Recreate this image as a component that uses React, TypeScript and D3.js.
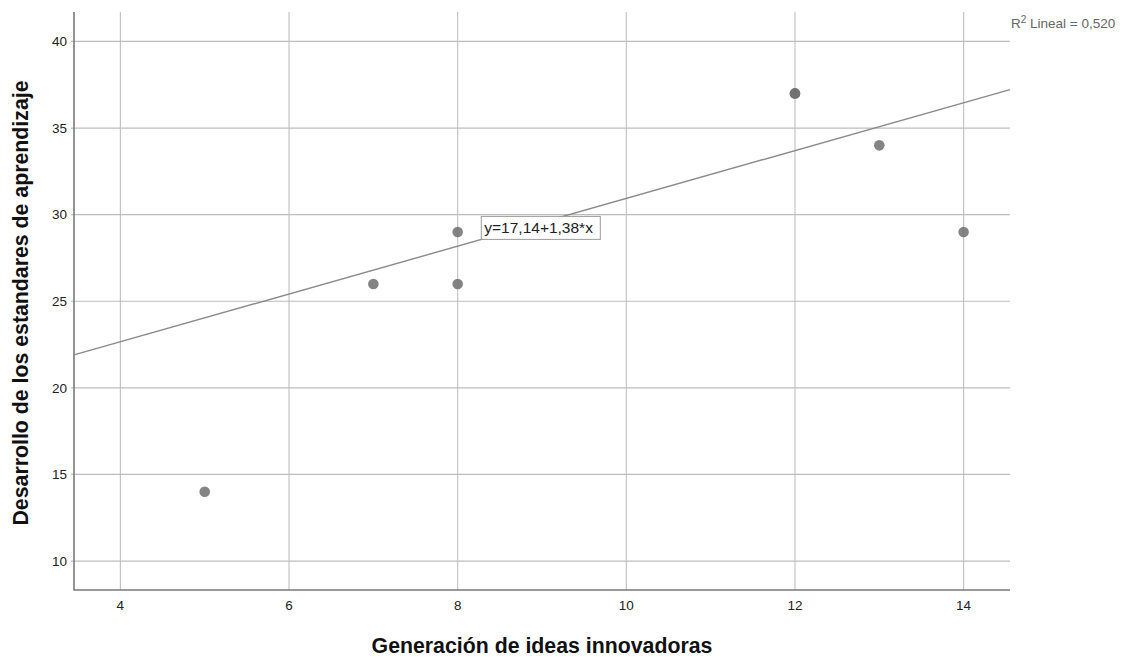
import { useEffect, useRef } from 'react';
import * as d3 from 'd3';

const xValues = [5, 7, 8, 8, 12, 12, 13, 14];
const yValues = [14, 26, 29, 26, 37, 37, 34, 29];
const xTicks = [4, 6, 8, 10, 12, 14];
const yTicks = [10, 15, 20, 25, 30, 35, 40];
const intercept = 17.14;
const slope = 1.38;
const equationText = 'y=17,14+1,38*x';
const r2Text = 'Lineal = 0,520';

const App = () => {
  const svgRef = useRef<SVGSVGElement>(null);

  useEffect(() => {
    const svg = d3.select(svgRef.current);
    svg.selectAll('*').remove();

    const left = 74;
    const right = 1010;
    const top = 12;
    const bottom = 590;
    const font = 'Liberation Sans, Arial, sans-serif';

    const x = d3.scaleLinear().domain([3.45, 14.55]).range([left, right]);
    const y = d3.scaleLinear().domain([8.33, 41.7]).range([bottom, top]);

    // grid
    svg
      .append('g')
      .selectAll('line')
      .data(xTicks)
      .enter()
      .append('line')
      .attr('x1', (d) => x(d))
      .attr('x2', (d) => x(d))
      .attr('y1', top)
      .attr('y2', bottom)
      .attr('stroke', '#c4c4c4')
      .attr('stroke-width', 1.2);

    svg
      .append('g')
      .selectAll('line')
      .data(yTicks)
      .enter()
      .append('line')
      .attr('x1', left - 3)
      .attr('x2', right)
      .attr('y1', (d) => y(d))
      .attr('y2', (d) => y(d))
      .attr('stroke', '#bdbdbd')
      .attr('stroke-width', 1.2);

    // axes
    svg
      .append('path')
      .attr('d', `M${left},${top}V${bottom}H${right}`)
      .attr('fill', 'none')
      .attr('stroke', '#7a7a7a')
      .attr('stroke-width', 1.6);

    svg
      .append('g')
      .selectAll('text')
      .data(yTicks)
      .enter()
      .append('text')
      .attr('x', left - 7)
      .attr('y', (d) => y(d))
      .attr('dy', '0.35em')
      .attr('text-anchor', 'end')
      .style('font-family', font)
      .style('font-size', '13.5px')
      .attr('fill', '#222')
      .text((d) => d);

    svg
      .append('g')
      .selectAll('text')
      .data(xTicks)
      .enter()
      .append('text')
      .attr('x', (d) => x(d))
      .attr('y', bottom + 20)
      .attr('text-anchor', 'middle')
      .style('font-family', font)
      .style('font-size', '13.5px')
      .attr('fill', '#222')
      .text((d) => d);

    // axis titles
    svg
      .append('text')
      .attr('x', 542)
      .attr('y', 653)
      .attr('text-anchor', 'middle')
      .style('font-family', font)
      .style('font-size', '21.3px')
      .style('font-weight', 'bold')
      .attr('fill', '#111')
      .text('Generación de ideas innovadoras');

    svg
      .append('text')
      .attr('transform', `translate(28,${(top + bottom) / 2 + 2}) rotate(-90)`)
      .attr('text-anchor', 'middle')
      .style('font-family', font)
      .style('font-size', '21.3px')
      .style('font-weight', 'bold')
      .attr('fill', '#111')
      .text('Desarrollo de los estandares de aprendizaje');

    // fit line
    const [x0, x1] = x.domain();
    const line = d3
      .line<number>()
      .x((d) => x(d))
      .y((d) => y(intercept + slope * d));
    svg
      .append('path')
      .datum([x0, x1])
      .attr('d', line)
      .attr('fill', 'none')
      .attr('stroke', '#8a8a8a')
      .attr('stroke-width', 1.4);

    // points
    svg
      .append('g')
      .selectAll('circle')
      .data(xValues.map((v, i) => [v, yValues[i]]))
      .enter()
      .append('circle')
      .attr('cx', (d) => x(d[0]))
      .attr('cy', (d) => y(d[1]))
      .attr('r', 5.3)
      .attr('fill', '#6e6e6e')
      .attr('fill-opacity', 0.85);

    // equation label
    const lx = x(8.28);
    const ly = y(29.9);
    const eq = svg.append('g').attr('transform', `translate(${lx},${ly})`);
    eq.append('rect')
      .attr('x', 0)
      .attr('y', 0)
      .attr('width', 119)
      .attr('height', 23)
      .attr('fill', '#fff')
      .attr('stroke', '#9a9a9a')
      .attr('stroke-width', 1);
    eq.append('text')
      .attr('x', 3)
      .attr('y', 17)
      .style('font-family', font)
      .style('font-size', '15.5px')
      .attr('fill', '#222')
      .text(equationText);

    // R2 label
    const r2 = svg
      .append('text')
      .attr('x', 1011)
      .attr('y', 28)
      .style('font-family', font)
      .style('font-size', '13.5px')
      .attr('fill', '#666');
    r2.append('tspan').text('R');
    r2.append('tspan').attr('dy', -5).style('font-size', '10px').text('2');
    r2.append('tspan').attr('dy', 5).text(' ' + r2Text);
  }, []);

  return <svg ref={svgRef} width={1131} height={662} style={{ position: 'absolute', left: 0, top: 0, background: '#fff' }} />;
};

export default App;
